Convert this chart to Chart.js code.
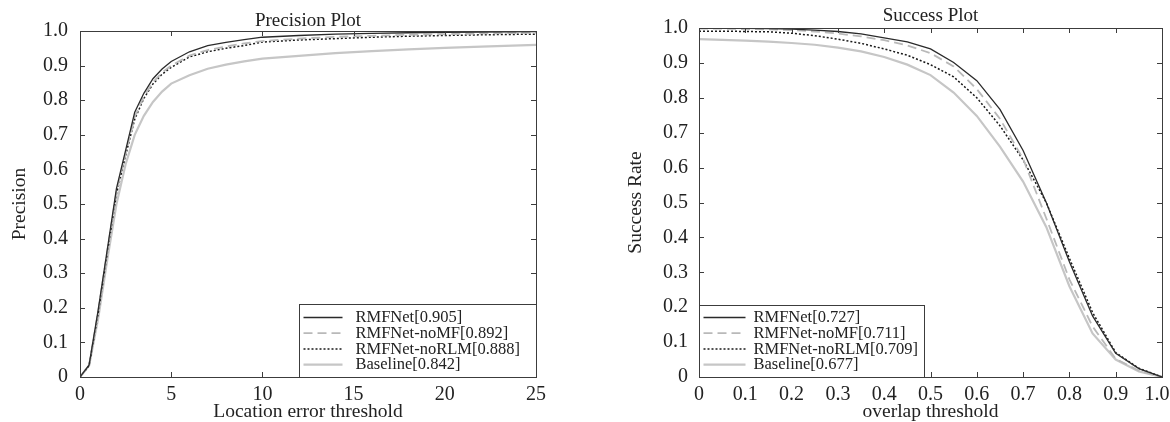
<!DOCTYPE html>
<html>
<head>
<meta charset="UTF-8">
<title>Precision / Success Plot</title>
<script src="https://cdn.jsdelivr.net/npm/chart.js@4"></script>
<style>
  body { margin: 0; background: #fff; }
  .box { position: absolute; top: 0; width: 585px; height: 422px; }
  #leftBox { left: 0; }
  #rightBox { left: 585px; }
</style>
</head>
<body>
<div class="box" id="leftBox"><canvas id="precChart"></canvas></div>
<div class="box" id="rightBox"><canvas id="succChart"></canvas></div>
<script>
// ---- data ----
const methods = ['RMFNet', 'RMFNet-noMF', 'RMFNet-noRLM', 'Baseline'];
const precScores = ['0.905', '0.892', '0.888', '0.842'];
const succScores = ['0.727', '0.711', '0.709', '0.677'];

const precThresholds = [0, 0.5, 1, 1.5, 2, 2.5, 3, 3.5, 4, 4.5, 5, 6, 7, 8, 9, 10, 12, 14, 16, 18, 20, 22, 25];
const precRMFNet   = [0, .035, .195, .37, .545, .655, .765, .82, .862, .89, .912, .94, .958, .967, .975, .982, .987, .991, .993, .995, .996, .997, .998];
const precNoMF     = [0, .034, .19, .365, .535, .645, .752, .81, .852, .88, .9, .929, .945, .955, .964, .971, .978, .983, .986, .989, .991, .993, .995];
const precNoRLM    = [0, .033, .185, .36, .53, .64, .745, .805, .847, .875, .895, .925, .94, .95, .958, .968, .974, .978, .982, .985, .987, .989, .991];
const precBaseline = [0, .033, .17, .34, .5, .615, .7, .755, .795, .825, .848, .872, .891, .903, .912, .92, .928, .936, .942, .947, .951, .955, .96];

const succThresholds = [0, 0.05, 0.1, 0.15, 0.2, 0.25, 0.3, 0.35, 0.4, 0.45, 0.5, 0.55, 0.6, 0.65, 0.7, 0.75, 0.8, 0.85, 0.9, 0.95, 1.0];
const succRMFNet   = [.999, .999, .999, .998, .997, .994, .99, .983, .972, .96, .94, .901, .849, .767, .649, .5, .33, .175, .068, .024, 0];
const succNoMF     = [.998, .998, .997, .996, .994, .99, .984, .976, .965, .95, .928, .89, .825, .74, .625, .455, .28, .145, .052, .018, 0];
const succNoRLM    = [.991, .991, .99, .989, .985, .978, .968, .956, .94, .922, .895, .86, .8, .72, .622, .5, .34, .185, .07, .025, 0];
const succBaseline = [.968, .966, .964, .961, .957, .952, .944, .933, .917, .895, .865, .815, .748, .66, .56, .43, .26, .125, .05, .016, 0];

const precXLabels = ['0', '5', '10', '15', '20', '25'];
const succXLabels = ['0', '0.1', '0.2', '0.3', '0.4', '0.5', '0.6', '0.7', '0.8', '0.9', '1.0'];
const yLabels = ['0', '0.1', '0.2', '0.3', '0.4', '0.5', '0.6', '0.7', '0.8', '0.9', '1.0'];

// ---- styles ----
Chart.defaults.font.family = '"Liberation Serif", "Times New Roman", serif';
Chart.defaults.color = '#222';

const lineStyles = [
  { borderColor: '#2a2a2a', borderWidth: 1.3, borderDash: [] },
  { borderColor: '#b9b9b9', borderWidth: 1.8, borderDash: [9, 5] },
  { borderColor: '#1a1a1a', borderWidth: 1.5, borderDash: [2, 2] },
  { borderColor: '#c6c6c6', borderWidth: 2.2, borderDash: [] }
];

function makeSets(xs, series, scores) {
  return series.map((vals, k) => Object.assign({
    label: methods[k] + '[' + scores[k] + ']',
    data: xs.map((t, i) => ({ x: t, y: vals[i] })),
    pointRadius: 0,
    tension: 0,
    fill: false
  }, lineStyles[k]));
}

// box, inward ticks on all four sides, and the legend box
const framePlugin = {
  id: 'frame',
  afterDraw(chart, args, opts) {
    const { ctx, chartArea: a, scales: { x, y } } = chart;
    ctx.save();
    ctx.strokeStyle = '#3c3c3c';
    ctx.lineWidth = 1;
    ctx.setLineDash([]);
    ctx.beginPath();
    x.ticks.forEach(t => {
      const px = Math.round(x.getPixelForValue(t.value)) + 0.5;
      ctx.moveTo(px, a.bottom); ctx.lineTo(px, a.bottom - 5);
      ctx.moveTo(px, a.top); ctx.lineTo(px, a.top + 5);
    });
    y.ticks.forEach(t => {
      const py = Math.round(y.getPixelForValue(t.value)) + 0.5;
      ctx.moveTo(a.left, py); ctx.lineTo(a.left + 5, py);
      ctx.moveTo(a.right, py); ctx.lineTo(a.right - 5, py);
    });
    ctx.stroke();
    const L = Math.round(a.left) + 0.5, T = Math.round(a.top) + 0.5;
    const R = Math.round(a.right) + 0.5, B = Math.round(a.bottom) + 0.5;
    ctx.strokeRect(L, T, R - L, B - T);

    // legend
    const lg = opts.legend;
    const lx = lg.alignRight ? R - lg.width : L;
    const ly = B - lg.height;
    ctx.fillStyle = '#fff';
    ctx.fillRect(lx, ly, lg.width, lg.height);
    ctx.strokeStyle = '#3c3c3c';
    ctx.strokeRect(lx, ly, lg.width, lg.height);
    ctx.font = '16.5px "Liberation Serif", "Times New Roman", serif';
    ctx.textBaseline = 'middle';
    ctx.textAlign = 'left';
    chart.data.datasets.forEach((ds, i) => {
      const ry = ly + lg.firstRow + i * 15.7;
      ctx.beginPath();
      ctx.strokeStyle = ds.borderColor;
      ctx.lineWidth = ds.borderWidth;
      ctx.setLineDash(ds.borderDash);
      ctx.moveTo(lx + 4, ry); ctx.lineTo(lx + lg.sample, ry);
      ctx.stroke();
      ctx.setLineDash([]);
      ctx.fillStyle = '#222';
      ctx.fillText(ds.label, lx + lg.textX, ry + 0.5);
    });
    ctx.restore();
  }
};

function makeOptions(cfg) {
  return {
    responsive: true,
    maintainAspectRatio: false,
    animation: false,
    layout: { padding: cfg.pad },
    plugins: {
      legend: { display: false },
      tooltip: { enabled: false },
      title: {
        display: true, text: cfg.title, fullSize: false,
        font: { size: 19, weight: 'normal' }, color: '#222',
        padding: cfg.titlePad
      },
      frame: { legend: cfg.legend }
    },
    scales: {
      x: {
        type: 'linear', min: cfg.xMin, max: cfg.xMax,
        grid: { display: false, drawTicks: false },
        border: { display: false },
        ticks: {
          stepSize: cfg.xStep, autoSkip: false, maxRotation: 0, padding: 6,
          font: { size: 20 }, color: '#222',
          callback: (v, i, ticks) => cfg.xLabels[i] + (i === ticks.length - 1 ? cfg.lastPad : '')
        },
        title: { display: true, text: cfg.xTitle, font: { size: 19.5 }, color: '#222', padding: { top: 0, bottom: -2 } },
        afterFit: s => { s.height = 45; s.paddingLeft = 0; s.paddingRight = 0; }
      },
      y: {
        min: 0, max: 1,
        grid: { display: false, drawTicks: false },
        border: { display: false },
        ticks: {
          stepSize: 0.1, autoSkip: false, padding: cfg.yPad,
          font: { size: 20 }, color: '#222',
          callback: (v, i) => yLabels[i]
        },
        title: { display: true, text: cfg.yTitle, font: { size: 19.5 }, color: '#222', padding: 0 },
        afterFit: s => { s.width = cfg.yWidth; s.paddingTop = 0; s.paddingBottom = 0; }
      }
    }
  };
}

new Chart(document.getElementById('precChart'), {
  type: 'line',
  data: { datasets: makeSets(precThresholds, [precRMFNet, precNoMF, precNoRLM, precBaseline], precScores) },
  options: makeOptions({
    title: 'Precision Plot', xTitle: 'Location error threshold', yTitle: 'Precision',
    xMin: 0, xMax: 25, xStep: 5, xLabels: precXLabels, lastPad: '',
    pad: { left: 8, right: 49, top: 0, bottom: 0 },
    titlePad: { top: 9.6, bottom: -1.4 },
    yWidth: 72, yPad: 12,
    legend: { alignRight: true, width: 237, height: 73, firstRow: 13, sample: 43, textX: 56 }
  }),
  plugins: [framePlugin]
});

new Chart(document.getElementById('succChart'), {
  type: 'line',
  data: { datasets: makeSets(succThresholds, [succRMFNet, succNoMF, succNoRLM, succBaseline], succScores) },
  options: makeOptions({
    title: 'Success Plot', xTitle: 'overlap threshold', yTitle: 'Success Rate',
    xMin: 0, xMax: 1, xStep: 0.1, xLabels: succXLabels, lastPad: '\u2002',
    pad: { left: 39, right: 8, top: 0, bottom: 0 },
    titlePad: { top: 4.6, bottom: 0.6 },
    yWidth: 75, yPad: 11,
    legend: { alignRight: false, width: 225, height: 72, firstRow: 12, sample: 46, textX: 54 }
  }),
  plugins: [framePlugin]
});
</script>
</body>
</html>
